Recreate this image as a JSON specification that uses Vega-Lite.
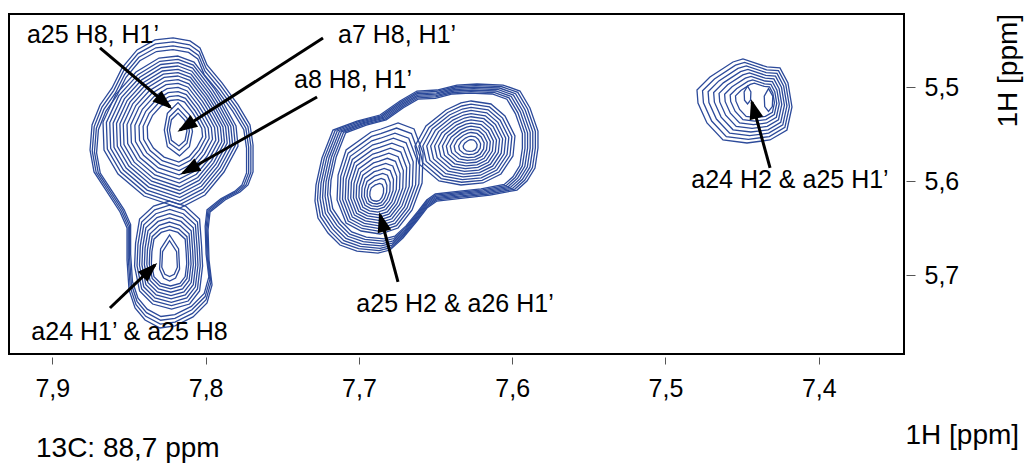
{
  "$schema": "https://vega.github.io/schema/vega-lite/v6.json",
  "width": 895,
  "height": 340,
  "autosize": {"type": "none"},
  "padding": {"left": 9, "top": 14, "right": 121, "bottom": 110},
  "background": "white",
  "title": {
    "text": "13C: 88,7 ppm",
    "orient": "top",
    "anchor": "start",
    "frame": "group",
    "offset": 0,
    "dx": 27,
    "dy": 472,
    "baseline": "alphabetic",
    "font": "Liberation Sans",
    "fontSize": 28,
    "fontWeight": "normal",
    "color": "black"
  },
  "config": {
    "view": {"stroke": "black", "strokeWidth": 2},
    "font": "Liberation Sans",
    "axis": {
      "grid": false,
      "domain": false,
      "labelFont": "Liberation Sans",
      "labelFontSize": 25,
      "labelColor": "black",
      "titleFont": "Liberation Sans",
      "titleFontSize": 28,
      "titleFontWeight": "normal",
      "titleColor": "black",
      "tickColor": "#555555",
      "tickWidth": 1
    }
  },
  "encoding": {
    "x": {
      "field": "x",
      "type": "quantitative",
      "scale": {"domain": [7.34442, 7.92825], "reverse": true, "nice": false, "zero": false},
      "axis": {
        "orient": "bottom",
        "values": [7.9, 7.8, 7.7, 7.6, 7.5, 7.4],
        "labelExpr": "replace(format(datum.value, '.1f'), '.', ',')",
        "offset": 3,
        "tickSize": 7,
        "labelPadding": 12,
        "labelFlush": false,
        "labelOverlap": false,
        "title": "1H [ppm]",
        "titleX": 896,
        "titleY": 86,
        "titleAlign": "left",
        "titleBaseline": "alphabetic",
        "titleAngle": 0
      }
    },
    "y": {
      "field": "y",
      "type": "quantitative",
      "scale": {"domain": [5.42194, 5.78403], "reverse": true, "nice": false, "zero": false},
      "axis": {
        "orient": "right",
        "values": [5.5, 5.6, 5.7],
        "labelExpr": "replace(format(datum.value, '.1f'), '.', ',')",
        "offset": 2,
        "tickSize": 9,
        "labelPadding": 9,
        "labelFlush": false,
        "labelOverlap": false,
        "title": "1H [ppm]",
        "titleAngle": 270,
        "titleAlign": "left",
        "titleBaseline": "alphabetic",
        "titleX": 110,
        "titleY": 113
      }
    }
  },
  "layer": [
    {
      "data": {
        "values": [
          {"f": "A_out", "x": 7.8219, "y": 5.604, "s": 1},
          {"f": "A_out", "x": 7.8219, "y": 5.604, "s": 0.973},
          {"f": "A_out", "x": 7.8219, "y": 5.604, "s": 0.946},
          {"f": "A_out", "x": 7.8219, "y": 5.604, "s": 0.92},
          {"f": "A_top1", "x": 7.818, "y": 5.5455, "s": 1},
          {"f": "A_top1", "x": 7.818, "y": 5.5455, "s": 0.955},
          {"f": "A_top1", "x": 7.818, "y": 5.5455, "s": 0.91},
          {"f": "A_top1", "x": 7.818, "y": 5.5455, "s": 0.865},
          {"f": "A_top1", "x": 7.818, "y": 5.5455, "s": 0.82},
          {"f": "A_top1", "x": 7.818, "y": 5.5455, "s": 0.775},
          {"f": "A_top1", "x": 7.818, "y": 5.5455, "s": 0.73},
          {"f": "A_top1", "x": 7.818, "y": 5.5455, "s": 0.68},
          {"f": "A_top1", "x": 7.818, "y": 5.5455, "s": 0.63},
          {"f": "A_top1", "x": 7.818, "y": 5.5455, "s": 0.575},
          {"f": "A_top1", "x": 7.818, "y": 5.5455, "s": 0.52},
          {"f": "A_top1", "x": 7.818, "y": 5.5455, "s": 0.465},
          {"f": "A_top1", "x": 7.818, "y": 5.5455, "s": 0.41},
          {"f": "A_top2", "x": 7.818, "y": 5.5455, "s": 0.76},
          {"f": "A_top2", "x": 7.818, "y": 5.5455, "s": 0.6},
          {"f": "A_top2", "x": 7.818, "y": 5.5455, "s": 0.47},
          {"f": "A_bot1", "x": 7.8235, "y": 5.685, "s": 1},
          {"f": "A_bot1", "x": 7.8235, "y": 5.685, "s": 0.93},
          {"f": "A_bot1", "x": 7.8235, "y": 5.685, "s": 0.86},
          {"f": "A_bot1", "x": 7.8235, "y": 5.685, "s": 0.79},
          {"f": "A_bot1", "x": 7.8235, "y": 5.685, "s": 0.72},
          {"f": "A_bot1", "x": 7.8235, "y": 5.685, "s": 0.65},
          {"f": "A_bot1", "x": 7.8235, "y": 5.685, "s": 0.58},
          {"f": "A_bot1", "x": 7.8235, "y": 5.685, "s": 0.52},
          {"f": "A_bot2", "x": 7.8235, "y": 5.685, "s": 1},
          {"f": "A_bot2", "x": 7.8235, "y": 5.685, "s": 0.78},
          {"f": "B_out", "x": 7.6569, "y": 5.5668, "s": 1},
          {"f": "B_out", "x": 7.6569, "y": 5.5668, "s": 0.977},
          {"f": "B_out", "x": 7.6569, "y": 5.5668, "s": 0.954},
          {"f": "B_out", "x": 7.6569, "y": 5.5668, "s": 0.931},
          {"f": "B_out", "x": 7.6569, "y": 5.5668, "s": 0.908},
          {"f": "B_out", "x": 7.6569, "y": 5.5668, "s": 0.885},
          {"f": "B_out", "x": 7.6569, "y": 5.5668, "s": 0.862},
          {"f": "B_left", "x": 7.6888, "y": 5.6147, "s": 1},
          {"f": "B_left", "x": 7.6888, "y": 5.6147, "s": 0.93},
          {"f": "B_left", "x": 7.6888, "y": 5.6147, "s": 0.86},
          {"f": "B_left", "x": 7.6888, "y": 5.6147, "s": 0.79},
          {"f": "B_left", "x": 7.6888, "y": 5.6147, "s": 0.72},
          {"f": "B_left", "x": 7.6888, "y": 5.6147, "s": 0.65},
          {"f": "B_left", "x": 7.6888, "y": 5.6147, "s": 0.58},
          {"f": "B_left", "x": 7.6888, "y": 5.6147, "s": 0.51},
          {"f": "B_left", "x": 7.6888, "y": 5.6147, "s": 0.44},
          {"f": "B_left", "x": 7.6888, "y": 5.6147, "s": 0.37},
          {"f": "B_left", "x": 7.6888, "y": 5.6147, "s": 0.3},
          {"f": "B_left", "x": 7.6888, "y": 5.6147, "s": 0.23},
          {"f": "B_left", "x": 7.6888, "y": 5.6147, "s": 0.16},
          {"f": "B_right", "x": 7.6269, "y": 5.5625, "s": 1},
          {"f": "B_right", "x": 7.6269, "y": 5.5625, "s": 0.93},
          {"f": "B_right", "x": 7.6269, "y": 5.5625, "s": 0.86},
          {"f": "B_right", "x": 7.6269, "y": 5.5625, "s": 0.79},
          {"f": "B_right", "x": 7.6269, "y": 5.5625, "s": 0.72},
          {"f": "B_right", "x": 7.6269, "y": 5.5625, "s": 0.65},
          {"f": "B_right", "x": 7.6269, "y": 5.5625, "s": 0.58},
          {"f": "B_right", "x": 7.6269, "y": 5.5625, "s": 0.51},
          {"f": "B_right", "x": 7.6269, "y": 5.5625, "s": 0.44},
          {"f": "B_right", "x": 7.6269, "y": 5.5625, "s": 0.37},
          {"f": "B_right", "x": 7.6269, "y": 5.5625, "s": 0.3},
          {"f": "B_right", "x": 7.6269, "y": 5.5625, "s": 0.22},
          {"f": "B_right", "x": 7.6269, "y": 5.5625, "s": 0.14},
          {"f": "C_out", "x": 7.4462, "y": 5.5135, "s": 1},
          {"f": "C_out", "x": 7.4454, "y": 5.5135, "s": 0.915},
          {"f": "C_out", "x": 7.4446, "y": 5.5135, "s": 0.83},
          {"f": "C_out", "x": 7.4438, "y": 5.5135, "s": 0.745},
          {"f": "C_out", "x": 7.4431, "y": 5.5135, "s": 0.66},
          {"f": "C_out", "x": 7.4423, "y": 5.5135, "s": 0.575},
          {"f": "C_out", "x": 7.4415, "y": 5.5135, "s": 0.49},
          {"f": "C_out", "x": 7.4407, "y": 5.5135, "s": 0.41},
          {"f": "C_in", "x": 7.4465, "y": 5.5082, "s": 0.75},
          {"f": "C_in", "x": 7.4328, "y": 5.5135, "s": 0.95}
        ]
      },
      "mark": {"type": "point", "filled": false, "color": "#2c4a9a", "strokeWidth": 1.3, "opacity": 1},
      "encoding": {
        "shape": {
          "field": "f",
          "type": "nominal",
          "legend": null,
          "scale": {
            "domain": ["A_out", "A_top1", "A_top2", "A_bot1", "A_bot2", "B_out", "B_left", "B_right", "C_out", "C_in"],
            "range": [
              "M0.01,-1.47 L0.18,-1.44 L0.28,-1.37 L0.35,-1.2 L0.5,-1.02 L0.66,-0.8 L0.78,-0.6 L0.81,-0.4 L0.81,-0.13 L0.76,0 L0.68,0.07 L0.53,0.15 L0.38,0.27 L0.36,0.45 L0.37,0.75 L0.4,1 L0.35,1.18 L0.21,1.32 L0.03,1.41 L-0.12,1.43 L-0.27,1.35 L-0.37,1.23 L-0.43,1.05 L-0.45,0.75 L-0.45,0.43 L-0.52,0.27 L-0.65,0.07 L-0.78,-0.13 L-0.82,-0.35 L-0.8,-0.6 L-0.72,-0.8 L-0.6,-0.97 L-0.5,-1.17 L-0.35,-1.35 L-0.17,-1.45 Z",
              "M0,-0.74 L0.16,-0.68 L0.36,-0.42 L0.46,-0.26 L0.58,-0.04 L0.6,0.16 L0.46,0.42 L0.27,0.65 L0.02,0.78 L-0.34,0.66 L-0.6,0.44 L-0.74,0.2 L-0.75,-0.08 L-0.62,-0.36 L-0.42,-0.58 L-0.19,-0.72 Z",
              "M0,-0.36 L0.15,-0.2 L0.19,0.02 L0.15,0.22 L0.02,0.34 L-0.14,0.22 L-0.18,0 L-0.14,-0.22 Z",
              "M0,-0.6 L0.16,-0.55 L0.3,-0.42 L0.32,-0.15 L0.33,0.05 L0.3,0.3 L0.2,0.43 L0.02,0.48 L-0.17,0.43 L-0.3,0.3 L-0.35,0.05 L-0.34,-0.18 L-0.3,-0.42 L-0.16,-0.55 Z",
              "M0,-0.26 L0.09,-0.12 L0.1,0.08 L0.06,0.17 L0,0.2 L-0.06,0.17 L-0.1,0.08 L-0.09,-0.12 Z",
              "M-1.1,0.51 L-1.09,0.35 L-1.03,0.08 L-0.92,-0.2 L-0.68,-0.29 L-0.45,-0.35 L-0.25,-0.49 L-0.08,-0.59 L0.12,-0.6 L0.32,-0.65 L0.52,-0.66 L0.78,-0.65 L0.95,-0.59 L1.05,-0.42 L1.13,-0.19 L1.13,-0.02 L1.1,0.18 L1.02,0.31 L0.92,0.4 L0.65,0.45 L0.38,0.48 L0.12,0.51 L0.02,0.58 L-0.08,0.71 L-0.22,0.88 L-0.35,1 L-0.47,1.03 L-0.68,1.01 L-0.85,0.95 L-0.97,0.83 L-1.07,0.68 Z",
              "M-0.05,-0.63 L0.05,-0.66 L0.22,-0.72 L0.38,-0.66 L0.47,-0.42 L0.46,-0.12 L0.36,0.15 L0.22,0.33 L0.04,0.39 L-0.15,0.36 L-0.3,0.28 L-0.39,0.05 L-0.38,-0.2 L-0.3,-0.45 Z",
              "M0,-0.45 L0.2,-0.42 L0.34,-0.3 L0.44,-0.1 L0.42,0.1 L0.3,0.28 L0.12,0.37 L-0.1,0.39 L-0.32,0.35 L-0.52,0.18 L-0.56,0 L-0.45,-0.2 L-0.25,-0.36 L-0.1,-0.43 Z",
              "M-0.51,-0.1 L-0.38,-0.23 L-0.15,-0.38 L-0.05,-0.41 L0.19,-0.33 L0.32,-0.32 L0.4,-0.17 L0.44,0.07 L0.39,0.3 L0.22,0.4 L-0.01,0.43 L-0.25,0.4 L-0.41,0.23 L-0.5,0.03 Z",
              "M0,-0.12 L0.045,-0.04 L0.04,0.07 L0,0.12 L-0.04,0.07 L-0.045,-0.04 Z"
            ]
          }
        },
        "size": {
          "field": "s",
          "type": "quantitative",
          "legend": null,
          "scale": {"type": "pow", "exponent": 2, "domain": [0, 1], "range": [0, 40000]}
        }
      }
    },
    {
      "data": {
        "name": "arrows",
        "values": [
          {"x": 7.8232, "y": 5.521, "x2": 7.8689, "y2": 5.4581, "angle": 130.1},
          {"x": 7.8167, "y": 5.5455, "x2": 7.7234, "y2": 5.4475, "angle": 237.3},
          {"x": 7.8147, "y": 5.5913, "x2": 7.7273, "y2": 5.5103, "angle": 240.4},
          {"x": 7.833, "y": 5.6892, "x2": 7.8624, "y2": 5.735, "angle": 46.3},
          {"x": 7.6862, "y": 5.636, "x2": 7.6745, "y2": 5.7073, "angle": 345.0},
          {"x": 7.4436, "y": 5.5157, "x2": 7.4318, "y2": 5.5859, "angle": 344.7}
        ]
      },
      "layer": [
        {
          "mark": {"type": "rule", "color": "black", "strokeWidth": 3, "strokeCap": "butt"},
          "encoding": {
            "x2": {"field": "x2"},
            "y2": {"field": "y2"}
          }
        },
        {
          "mark": {"type": "point", "filled": true, "color": "black", "opacity": 1, "size": 400, "shape": "M0,-0.3 L0.7,1.7 L-0.7,1.7 Z"},
          "encoding": {
            "angle": {"field": "angle", "type": "quantitative", "legend": null, "scale": {"domain": [0, 360], "range": [0, 360]}}
          }
        }
      ]
    },
    {
      "data": {
        "values": [
          {"label": "a25 H8, H1’", "x": 7.8735, "y": 5.4528},
          {"label": "a7 H8, H1’", "x": 7.6751, "y": 5.4528},
          {"label": "a8 H8, H1’", "x": 7.7038, "y": 5.5007},
          {"label": "a24 H1’ & a25 H8", "x": 7.8496, "y": 5.7691},
          {"label": "a25 H2 & a26 H1’", "x": 7.6373, "y": 5.7393},
          {"label": "a24 H2 & a25 H1’", "x": 7.4188, "y": 5.6072}
        ]
      },
      "mark": {"type": "text", "align": "center", "baseline": "alphabetic", "font": "Liberation Sans", "fontSize": 25, "color": "black"},
      "encoding": {
        "text": {"field": "label", "type": "nominal"}
      }
    }
  ]
}
